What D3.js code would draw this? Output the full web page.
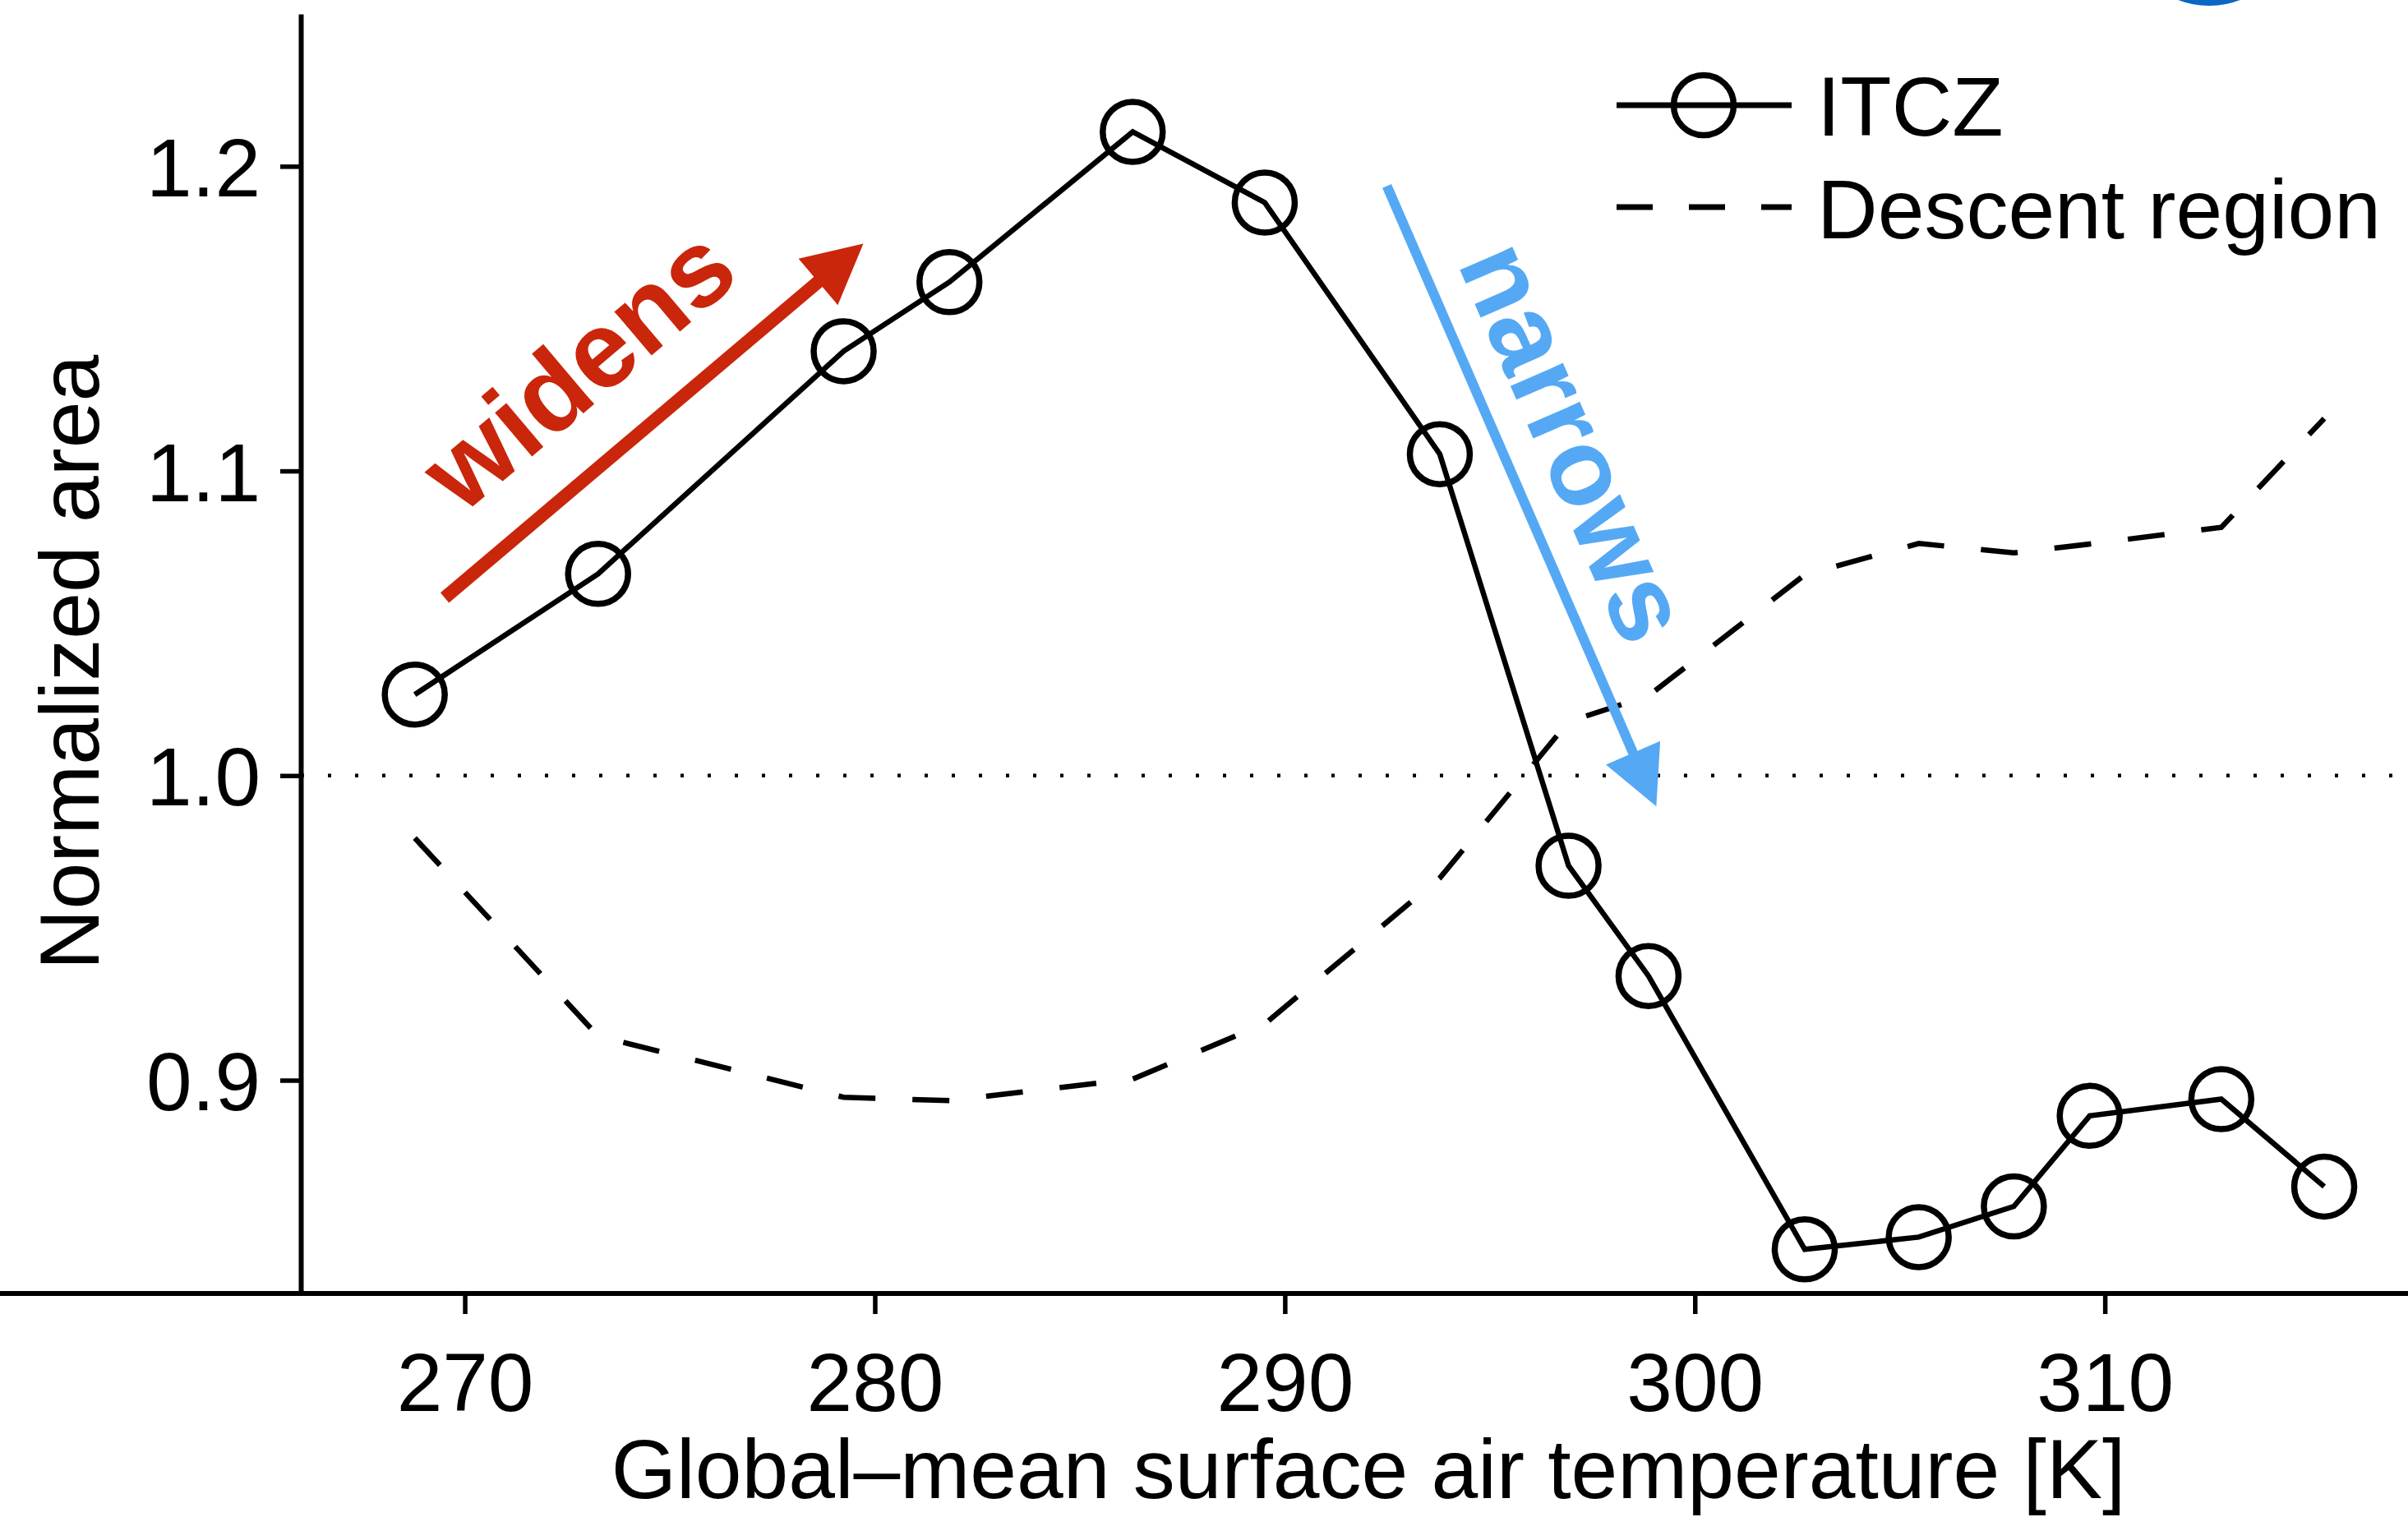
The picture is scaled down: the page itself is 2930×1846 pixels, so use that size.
<!DOCTYPE html>
<html>
<head>
<meta charset="utf-8">
<script src="https://cdn.jsdelivr.net/npm/d3@7"></script>
<style>
html, body { margin: 0; padding: 0; background: #fff; }
svg { display: block; font-family: "Liberation Sans", Arial, Helvetica, sans-serif; }
</style>
</head>
<body>
<svg id="chart" width="2930" height="1846"></svg>
<script>
// data
const temps   = [268.78, 273.25, 279.24, 281.82, 286.29, 289.51, 293.78, 296.92, 298.87, 302.68, 305.46, 307.78, 309.63, 312.84, 315.35];
const itcz    = [1.0266, 1.0662, 1.1393, 1.1620, 1.2113, 1.1881, 1.1055, 0.9704, 0.9342, 0.8445, 0.8485, 0.8586, 0.8883, 0.8938, 0.8651];
const descent = [0.9795, 0.9145, 0.8944, 0.8933, 0.9004, 0.9185, 0.9664, 1.0177, 1.0262, 1.0659, 1.0762, 1.0731, 1.0760, 1.0815, 1.1172];
const xTicks = [270, 280, 290, 300, 310];
const yTicks = [0.9, 1.0, 1.1, 1.2];
const seriesNames = ['ITCZ', 'Descent region'];

const svg = d3.select('#chart');
const W = 2930, H = 1846;

const x = d3.scaleLinear().domain([266, 318]).range([366, 366 + 52 * 49.89]);
const y = d3.scaleLinear().domain([0.83, 1.25]).range([1574, 17]);

// panel badge peeking in at the top right
svg.append('circle')
    .attr('cx', 2688).attr('cy', -98).attr('r', 105)
    .attr('fill', '#0a67c4');

// reference line at 1.0
svg.append('line')
    .attr('x1', x(266)).attr('x2', W)
    .attr('y1', y(1.0)).attr('y2', y(1.0))
    .attr('stroke', '#000').attr('stroke-width', 4.5)
    .attr('stroke-dasharray', '4,29');

// axes
const gx = svg.append('g')
    .attr('transform', `translate(0,${y(0.83)})`)
    .call(d3.axisBottom(x).tickValues(xTicks).tickSize(25).tickSizeOuter(0).tickPadding(46).tickFormat(d3.format('d')));
const gy = svg.append('g')
    .attr('transform', `translate(${x(266)},0)`)
    .call(d3.axisLeft(y).tickValues(yTicks).tickSize(25).tickSizeOuter(0).tickPadding(24).tickFormat(d3.format('.1f')));

[gx, gy].forEach(g => {
    g.select('.domain').attr('stroke', '#000').attr('stroke-width', 6);
    g.selectAll('.tick line').attr('stroke', '#000').attr('stroke-width', 5.5);
    g.selectAll('.tick text').attr('fill', '#000').style('font-size', '100px')
        .style('font-family', '"Liberation Sans", Arial, sans-serif');
});
gx.select('.domain').attr('d', `M0,0H${W}`);
gy.selectAll('.tick text').attr('dy', '0.36em');
gx.selectAll('.tick text').attr('dy', '0.72em');

// axis titles
svg.append('text')
    .attr('x', 1665).attr('y', 1823)
    .attr('text-anchor', 'middle')
    .style('font-size', '102px')
    .text('Global\u2013mean surface air temperature [K]');

svg.append('text')
    .attr('transform', 'translate(120,806) rotate(-90)')
    .attr('text-anchor', 'middle')
    .style('font-size', '102px')
    .text('Normalized area');

// descent region (dashed)
const pts = temps.map((t, i) => ({ t, a: itcz[i], d: descent[i] }));
const lineD = d3.line().x(d => x(d.t)).y(d => y(d.d));
const lineI = d3.line().x(d => x(d.t)).y(d => y(d.a));

svg.append('path')
    .datum(pts)
    .attr('d', lineD)
    .attr('fill', 'none')
    .attr('stroke', '#000')
    .attr('stroke-width', 6.5)
    .attr('stroke-dasharray', '45,45');

// ITCZ line + open circles
svg.append('path')
    .datum(pts)
    .attr('d', lineI)
    .attr('fill', 'none')
    .attr('stroke', '#000')
    .attr('stroke-width', 6.5);

svg.selectAll('circle.itcz')
    .data(pts)
    .enter()
    .append('circle')
    .attr('class', 'itcz')
    .attr('cx', d => x(d.t))
    .attr('cy', d => y(d.a))
    .attr('r', 36.5)
    .attr('fill', 'none')
    .attr('stroke', '#000')
    .attr('stroke-width', 7.5);

// arrows
function arrow(x0, y0, x1, y1, color, width, headLen, headW) {
    const dx = x1 - x0, dy = y1 - y0;
    const L = Math.hypot(dx, dy);
    const ux = dx / L, uy = dy / L;
    const bx = x1 - ux * headLen, by = y1 - uy * headLen;
    svg.append('line')
        .attr('x1', x0).attr('y1', y0)
        .attr('x2', bx + ux * 4).attr('y2', by + uy * 4)
        .attr('stroke', color).attr('stroke-width', width);
    const px = -uy, py = ux;
    svg.append('path')
        .attr('d', `M${x1},${y1}L${bx + px * headW / 2},${by + py * headW / 2}L${bx - px * headW / 2},${by - py * headW / 2}Z`)
        .attr('fill', color);
}

const red = '#c9260b', blue = '#55a9f4';
arrow(x(269.51), y(1.0584), x(279.72), y(1.1746), red, 16, 72, 74);
arrow(x(292.49), y(1.1935), x(299.06), y(0.9899), blue, 12, 71, 72);

svg.append('text')
    .attr('transform', `translate(${x(272.75)},${y(1.1337)}) rotate(-40.2)`)
    .attr('text-anchor', 'middle')
    .attr('dy', '0.35em')
    .attr('fill', red)
    .style('font-size', '132px')
    .style('font-weight', 'bold')
    .text('widens');

svg.append('text')
    .attr('transform', `translate(${x(297.1)},${y(1.1097)}) rotate(66.5)`)
    .attr('text-anchor', 'middle')
    .attr('dy', '0.35em')
    .attr('fill', blue)
    .style('font-size', '132px')
    .style('font-weight', 'bold')
    .text('narrows');

// legend
const leg = svg.append('g');
leg.append('line')
    .attr('x1', 1967).attr('x2', 2180).attr('y1', 128).attr('y2', 128)
    .attr('stroke', '#000').attr('stroke-width', 7);
leg.append('circle')
    .attr('cx', 2073).attr('cy', 128).attr('r', 36.5)
    .attr('fill', 'none').attr('stroke', '#000').attr('stroke-width', 7.5);
leg.append('line')
    .attr('x1', 1967).attr('x2', 2180).attr('y1', 252).attr('y2', 252)
    .attr('stroke', '#000').attr('stroke-width', 7)
    .attr('stroke-dasharray', '44,44');
leg.selectAll('text')
    .data(seriesNames)
    .enter()
    .append('text')
    .attr('x', 2211)
    .attr('y', (d, i) => 165 + i * 125)
    .style('font-size', '102px')
    .text(d => d);
</script>
</body>
</html>
